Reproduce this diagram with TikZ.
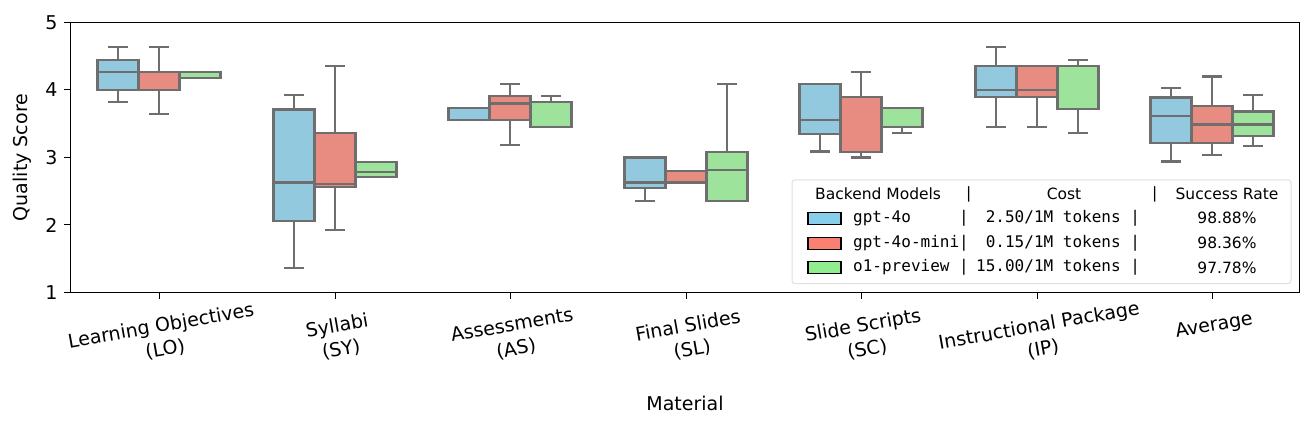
\documentclass[tikz,border=0pt]{standalone}
\usepackage{fontspec}
\setmainfont{DejaVu Sans}
\setmonofont{DejaVu Sans Mono}
\usetikzlibrary{positioning}
\definecolor{boxgray}{HTML}{6E6E6E}
\definecolor{bluebox}{HTML}{93C9DF}
\definecolor{redbox}{HTML}{E88C82}
\definecolor{greenbox}{HTML}{9DE39B}
\definecolor{bluepatch}{HTML}{87CEEB}
\definecolor{redpatch}{HTML}{FA8072}
\definecolor{greenpatch}{HTML}{90EE90}
\tikzset{
  boxline/.style={draw=boxgray, line width=2.2pt},
  tick/.style={line width=1pt},
  ticklabel/.style={font=\fontsize{19}{23}\selectfont},
  catlabel/.style={font=\fontsize{19}{24}\selectfont, align=center, rotate=10},
  legtext/.style={font=\fontsize{15.5}{18}\selectfont, anchor=west, inner sep=0pt},
  legmono/.style={font=\ttfamily\fontsize{16}{18}\selectfont, anchor=west, inner sep=0pt}
}
% box: center x, colour, lo, q1, median, q3, hi
\newcommand{\qbox}[7]{%
  \draw[boxline] (#1,#3) -- (#1,#4) (#1,#6) -- (#1,#7);
  \draw[boxline] (#1-10,#3) -- (#1+10,#3) (#1-10,#7) -- (#1+10,#7);
  \draw[boxline, fill=#2] (#1-20.5,#4) rectangle (#1+20.5,#6);
  \draw[boxline] (#1-20.5,#5) -- (#1+20.5,#5);
}
\begin{document}
\begin{tikzpicture}[x=1pt, y=67.5pt]
\useasboundingbox (0,-1.0741) rectangle (1315,5.3333);

%boxes
\qbox{118}{bluebox}{3.82}{4.0}{4.27}{4.45}{4.64}
\qbox{159}{redbox}{3.64}{4.0}{4.27}{4.27}{4.64}
\qbox{200}{greenbox}{4.18}{4.18}{4.27}{4.27}{4.27}

\qbox{294}{bluebox}{1.36}{2.06}{2.63}{3.71}{3.93}
\qbox{335}{redbox}{1.93}{2.56}{2.61}{3.36}{4.36}
\qbox{376}{greenbox}{2.71}{2.71}{2.79}{2.93}{2.93}

\qbox{469}{bluebox}{3.55}{3.55}{3.55}{3.73}{3.73}
\qbox{510}{redbox}{3.18}{3.55}{3.80}{3.91}{4.09}
\qbox{551}{greenbox}{3.45}{3.45}{3.82}{3.82}{3.91}

\qbox{645}{bluebox}{2.36}{2.55}{2.63}{3.0}{3.0}
\qbox{686}{redbox}{2.63}{2.63}{2.63}{2.80}{2.80}
\qbox{727}{greenbox}{2.36}{2.36}{2.81}{3.08}{4.09}

\qbox{820}{bluebox}{3.09}{3.35}{3.55}{4.09}{4.09}
\qbox{861}{redbox}{3.0}{3.08}{3.08}{3.90}{4.27}
\qbox{902}{greenbox}{3.36}{3.45}{3.45}{3.73}{3.73}

\qbox{996}{bluebox}{3.45}{3.90}{4.0}{4.36}{4.64}
\qbox{1037}{redbox}{3.45}{3.90}{4.0}{4.36}{4.36}
\qbox{1078}{greenbox}{3.36}{3.72}{4.36}{4.36}{4.45}

\qbox{1171}{bluebox}{2.94}{3.21}{3.61}{3.89}{4.03}
\qbox{1212}{redbox}{3.04}{3.21}{3.49}{3.76}{4.20}
\qbox{1253}{greenbox}{3.17}{3.32}{3.49}{3.68}{3.93}

%axes
\draw[line width=1pt] (70.5,1) rectangle (1299.5,5);
\foreach \v in {1,...,5}{
  \draw[tick] (70.5,\v) -- (64,\v);
  \node[ticklabel, anchor=east] at (61,\v) {\v};
}
\foreach \xc/\lab in {159/{Learning Objectives\\(LO)}, 335/{Syllabi\\(SY)},
  510/{Assessments\\(AS)}, 686/{Final Slides\\(SL)}, 861/{Slide Scripts\\(SC)},
  1037/{Instructional Package\\(IP)}, 1212/{Average}}{
  \draw[tick] (\xc,1) -- (\xc,0.9);
  \node[catlabel, anchor=north] at (\xc,0.68) {\lab};
}
\node[ticklabel, rotate=90] (ylab) at (22,3.0) {Quality Score};
\node[ticklabel] (xlab) at (685,-0.65) {Material};

%legend
\draw[draw=black!12, fill=white, fill opacity=0.85, rounded corners=3pt, line width=1pt]
  (792,1.13) rectangle (1291,2.67);
\node[legtext] (h1) at (815,2.46) {Backend Models};
\node[legtext] (h1b) at (966,2.46) {|};
\node[legtext, anchor=center] (h2) at (1064,2.46) {Cost};
\node[legtext] (h2b) at (1152,2.46) {|};
\node[legtext, anchor=center] (h3) at (1227,2.46) {Success Rate};
\foreach \yy/\col/\nm/\cst/\rate in {2.10/bluepatch/{gpt-4o\ \ \ \ \ |}/{\ 2.50/1M tokens\ |}/98.88\%,
  1.73/redpatch/{gpt-4o-mini|}/{\ 0.15/1M tokens\ |}/98.36\%,
  1.37/greenpatch/{o1-preview\ |}/{15.00/1M tokens\ |}/97.78\%}{
  \draw[fill=\col, line width=1.2pt] (808,\yy-0.09) rectangle (841,\yy+0.09);
  \node[legmono] at (853,\yy) {\nm};
  \node[legmono] at (976,\yy) {\cst};
  \node[legtext, anchor=center] at (1227,\yy) {\rate};
}
\end{tikzpicture}
\end{document}
